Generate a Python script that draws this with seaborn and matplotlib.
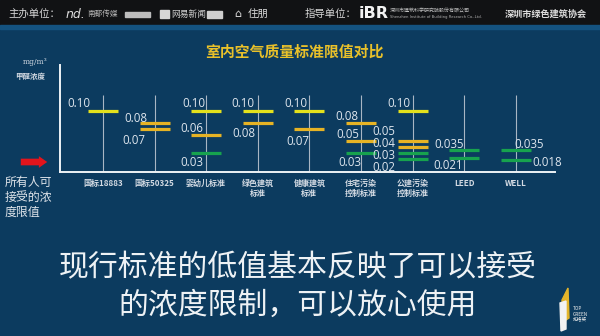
import matplotlib
matplotlib.use("Agg")
import matplotlib.pyplot as plt
from matplotlib.patches import Rectangle, FancyArrowPatch, Polygon
import pandas as pd
import seaborn as sns

# ---- data -------------------------------------------------------------
standards = ["国标18883", "国标50325", "婴幼儿标准", "绿色建筑\n标准", "健康建筑\n标准",
             "住宅污染\n控制标准", "公建污染\n控制标准", "LEED", "WELL"]
limits = [
    [0.10],
    [0.08, 0.07],
    [0.10, 0.06, 0.03],
    [0.10, 0.08],
    [0.10, 0.07],
    [0.08, 0.05, 0.03],
    [0.10, 0.05, 0.04, 0.03, 0.02],
    [0.035, 0.021],
    [0.035, 0.018],
]
title = "室内空气质量标准限值对比"
unit_label = "mg/m³"
quantity_label = "甲醛浓度"
note_lines = ["所有人可", "接受的浓", "度限值"]
message_lines = ["现行标准的低值基本反映了可以接受", "的浓度限制，可以放心使用"]

# label placement per value, in pixels: (dx from category centre, dy downward, alignment)
label_layout = [
    [(-13, -8, "right")],
    [(-7, -5, "right"), (-9, 11, "right")],
    [(-1, -8, "right"), (-3, -7, "right"), (-3, 9, "right")],
    [(-3, -8, "right"), (-2, 10, "right")],
    [(-2, -8, "right"), (0, 12, "right")],
    [(-2, -7, "right"), (-2, -7, "right"), (0, 9, "right")],
    [(-2, -8, "right"), (-17, -10, "right"), (-17, -4, "right"), (-17, 2, "right"), (-17, 8, "right")],
    [(0, -6, "right"), (-1, 7, "right")],
    [(-1, -6, "left"), (17, 2, "left")],
]

def fmt(v):
    s = f"{v:.3f}"
    return s if s[-1] != "0" else f"{v:.2f}"

def tier(v):
    if v >= 0.1:
        return "high"
    if v >= 0.04:
        return "mid"
    return "low"

rows = []
for name, vals in zip(standards, limits):
    for v in vals:
        rows.append({"standard": name, "limit": v, "tier": tier(v)})
df = pd.DataFrame(rows)

# ---- style ------------------------------------------------------------
BG = "#0c3b5f"
TXT = "#dfe6ee"
palette = {"high": "#e4e11c", "mid": "#e6b325", "low": "#17a24e"}

sns.set_theme(style="white")
plt.rcParams["font.family"] = ["Noto Sans CJK SC", "DejaVu Sans"]

W, H = 600, 336
fig = plt.figure(figsize=(6, 3.36), dpi=100, facecolor=BG)

def fx(px):
    return px / W

def fy(py):
    return 1 - py / H

ax = fig.add_axes([fx(60), fy(172), fx(555) - fx(60), fy(65) - fy(172)])
ax.set_facecolor("none")

sns.scatterplot(data=df, x="standard", y="limit", hue="tier", palette=palette,
                marker="_", s=470, linewidth=2.3, legend=False, ax=ax, zorder=3)

n = len(standards)
ax.vlines(range(n), -0.01, 0.1267, color="#a9b6c4", lw=0.8, zorder=2)
ax.set_xlim(-0.833, 8.76)
ax.set_ylim(-0.00167, 0.1767)

for s in ["top", "right"]:
    ax.spines[s].set_visible(False)
for s in ["left", "bottom"]:
    ax.spines[s].set_color("#eef2f6")
    ax.spines[s].set_linewidth(1.4)
ax.set_xlabel("")
ax.set_ylabel("")
ax.set_yticks([])
ax.set_xticks(range(n))
ax.set_xticklabels(standards, fontsize=5.8, fontweight="bold", color="#d3dae3",
                   linespacing=1.15)
ax.tick_params(axis="x", length=0, pad=5)

for i, (vals, lay) in enumerate(zip(limits, label_layout)):
    for v, (dx, dy, ha) in zip(vals, lay):
        ax.annotate(fmt(v), xy=(i, v), xytext=(dx, -dy), textcoords="offset pixels",
                    ha=ha, va="center", fontsize=8.3, color=TXT,
                    family=["Open Sans", "DejaVu Sans"], zorder=4)

# ---- titles and side notes -------------------------------------------
fig.text(fx(294), fy(52), title, ha="center", va="center", fontsize=10.7,
         fontweight="bold", color="#e9c12a")
fig.text(fx(35), fy(62), unit_label, ha="center", va="center", fontsize=5.5,
         color="#d3dae3", family=["DejaVu Serif"])
fig.text(fx(30), fy(76), quantity_label, ha="center", va="center", fontsize=5.4,
         fontweight="bold", color="#d3dae3")

fig.add_artist(FancyArrowPatch((fx(18), fy(162)), (fx(50), fy(162)),
                               transform=fig.transFigure,
                               arrowstyle="simple,head_width=1.4,head_length=1.0,tail_width=0.8",
                               mutation_scale=6, color="#e3141c", lw=0))

for k, line in enumerate(note_lines):
    fig.text(fx(5), fy(182 + 15 * k), line, ha="left", va="center", fontsize=8.6,
             color="#dfe4ea")

for k, line in enumerate(message_lines):
    fig.text(fx(298), fy(268 + 37 * k), line, ha="center", va="center", fontsize=21.5,
             color="#eef2f5", fontweight="light")

# ---- header band ------------------------------------------------------
fig.add_artist(Rectangle((0, fy(25)), 1, 1 - fy(25), transform=fig.transFigure,
                         color="#111214", zorder=0))
fig.add_artist(Rectangle((0, fy(29)), 1, fy(25) - fy(29), transform=fig.transFigure,
                         color="#14527f", zorder=0))
hy = fy(14)
fig.text(fx(8), hy, "主办单位：", ha="left", va="center", fontsize=7.5, color="#d8d8d8")
fig.text(fx(66), hy, "nd.", ha="left", va="center", fontsize=9, color="#dddddd",
         style="italic", family=["DejaVu Sans"])
fig.text(fx(87), hy, "南都传媒", ha="left", va="center", fontsize=5.5, color="#b9b9b9")
fig.add_artist(Rectangle((fx(125), fy(17)), fx(25), fy(12) - fy(17),
                         transform=fig.transFigure, color="#bdbdbd"))
fig.add_artist(Rectangle((fx(160), fy(18)), fx(9), fy(10) - fy(18),
                         transform=fig.transFigure, color="#d6d6d6"))
fig.text(fx(171), hy, "网易新闻", ha="left", va="center", fontsize=6.3, color="#cfcfcf")
fig.add_artist(Rectangle((fx(207), fy(18)), fx(15), fy(11) - fy(18),
                         transform=fig.transFigure, color="#cfcfcf"))
fig.text(fx(234), hy, "⌂", ha="left", va="center", fontsize=8, color="#dddddd",
         family=["DejaVu Sans"])
fig.text(fx(248), hy, "住朋", ha="left", va="center", fontsize=7.5, color="#dddddd")
fig.text(fx(305), hy, "指导单位：", ha="left", va="center", fontsize=7.5, color="#d8d8d8")
fig.text(fx(359), hy, "iBR", ha="left", va="center", fontsize=11.5, fontweight="bold",
         color="#f2f2f2", family=["DejaVu Sans"])
fig.text(fx(390), fy(11), "深圳市建筑科学研究院股份有限公司", ha="left", va="center",
         fontsize=3.6, color="#bfbfbf")
fig.text(fx(390), fy(17), "Shenzhen Institute of Building Research Co.,Ltd.",
         ha="left", va="center", fontsize=2.7, color="#b0b0b0", family=["DejaVu Sans"])
fig.text(fx(505), hy, "深圳市绿色建筑协会", ha="left", va="center", fontsize=6.6,
         fontweight="bold", color="#dcdcdc")

# ---- corner badge -----------------------------------------------------
fig.add_artist(Polygon([(fx(562), fy(300)), (fx(568), fy(288)), (fx(569), fy(318)),
                        (fx(563), fy(322))], closed=True, transform=fig.transFigure,
                       color="#e4b52a"))
fig.add_artist(Polygon([(fx(560), fy(303)), (fx(566), fy(301)), (fx(566), fy(329)),
                        (fx(561), fy(331))], closed=True, transform=fig.transFigure,
                       color="#f2f2f2"))
for k, t in enumerate(["TOP", "GREEN", "拓格奖"]):
    fig.text(fx(573), fy(309 + 5 * k), t, ha="left", va="center", fontsize=3.4,
             color="#eeeeee")

fig.savefig("out.png", dpi=100, facecolor=BG)
